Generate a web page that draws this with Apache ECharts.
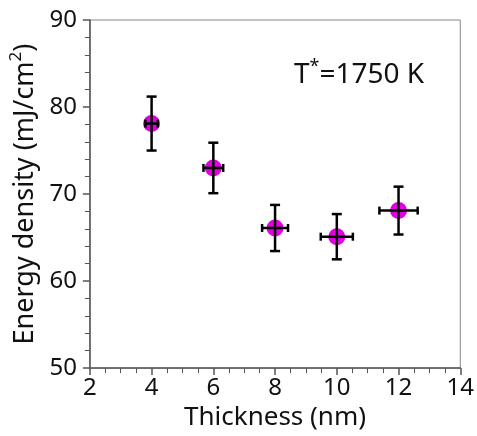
<!DOCTYPE html>
<html>
<head>
<meta charset="utf-8">
<script src="https://cdn.jsdelivr.net/npm/echarts@6/dist/echarts.min.js"></script>
<style>
  html, body { margin: 0; padding: 0; background: #fff; }
  #main { width: 477px; height: 436px; }
</style>
</head>
<body>
<div id="main"></div>
<script>
  // values
  var thickness = [4, 6, 8, 10, 12];
  var thicknessErr = [0.2, 0.32, 0.42, 0.52, 0.62];
  var energy = [78.1, 73.0, 66.1, 65.1, 68.1];
  var energyErr = [3.1, 2.9, 2.65, 2.6, 2.75];

  var xTicks = [2, 4, 6, 8, 10, 12, 14];
  var yTicks = [50, 60, 70, 80, 90];

  var font = 'Noto Sans';
  var axisColor = '#555';

  var points = thickness.map(function (t, i) {
    return [t, energy[i]];
  });
  var errData = thickness.map(function (t, i) {
    return [t, energy[i], thicknessErr[i], energyErr[i]];
  });

  function renderErr(params, api) {
    var x = api.value(0), y = api.value(1);
    var dx = api.value(2), dy = api.value(3);
    var l = api.coord([x - dx, y]);
    var r = api.coord([x + dx, y]);
    var t = api.coord([x, y + dy]);
    var b = api.coord([x, y - dy]);
    var cap = 5;
    var style = { stroke: '#000', lineWidth: 2.5 };
    var lines = [
      [l, r], [t, b],
      [[t[0] - cap, t[1]], [t[0] + cap, t[1]]],
      [[b[0] - cap, b[1]], [b[0] + cap, b[1]]],
      [[l[0], l[1] - cap + 1], [l[0], l[1] + cap - 1]],
      [[r[0], r[1] - cap + 1], [r[0], r[1] + cap - 1]]
    ];
    return {
      type: 'group',
      children: lines.map(function (p) {
        return {
          type: 'line',
          shape: { x1: p[0][0], y1: p[0][1], x2: p[1][0], y2: p[1][1] },
          style: style
        };
      })
    };
  }

  var chart = echarts.init(document.getElementById('main'));
  var option = {
    backgroundColor: '#fff',
    animation: false,
    grid: {
      left: 86, right: 16, top: 20, bottom: 67,
      show: true, borderColor: '#888', borderWidth: 1
    },
    xAxis: {
      type: 'value',
      min: xTicks[0], max: xTicks[xTicks.length - 1], interval: 2,
      name: 'Thickness (nm)',
      nameLocation: 'middle',
      nameGap: 36,
      nameTextStyle: { fontFamily: font, fontSize: 26, color: '#111' },
      axisLine: { show: true, lineStyle: { color: axisColor, width: 1.5 } },
      axisTick: { show: true, inside: false, length: 7, lineStyle: { color: axisColor, width: 1.5 } },
      minorTick: { show: true, splitNumber: 4, length: 5, lineStyle: { color: axisColor, width: 1 } },
      axisLabel: { fontFamily: font, fontSize: 24, color: '#111', margin: 8 },
      splitLine: { show: false }
    },
    yAxis: {
      type: 'value',
      min: yTicks[0], max: yTicks[yTicks.length - 1], interval: 10,
      name: '{a|Energy density (mJ/cm}{s|2}{a|)}',
      nameLocation: 'middle',
      nameGap: 31,
      nameTextStyle: {
        fontFamily: font, color: '#111',
        rich: {
          a: { fontFamily: font, fontSize: 27, color: '#111', lineHeight: 34 },
          s: { fontFamily: font, fontSize: 17, color: '#111', verticalAlign: 'top', lineHeight: 34 }
        }
      },
      axisLine: { show: true, lineStyle: { color: axisColor, width: 1.5 } },
      axisTick: { show: true, inside: false, length: 7, lineStyle: { color: axisColor, width: 1.5 } },
      minorTick: { show: true, splitNumber: 5, length: 5, lineStyle: { color: axisColor, width: 1 } },
      axisLabel: { fontFamily: font, fontSize: 24, color: '#111', margin: 13 },
      splitLine: { show: false }
    },
    graphic: [{
      type: 'text',
      left: 294,
      top: 58,
      style: {
        text: '{a|T}{s|*}{a|=1750 K}',
        rich: {
          a: { fontFamily: font, fontSize: 28, fill: '#111', lineHeight: 34 },
          s: { fontFamily: font, fontSize: 18, fill: '#111', verticalAlign: 'top', lineHeight: 34 }
        }
      }
    }],
    series: [
      {
        type: 'scatter',
        data: points,
        symbol: 'circle',
        symbolSize: 17,
        itemStyle: { color: '#e000e0', opacity: 1 },
        z: 2
      },
      {
        type: 'custom',
        data: errData,
        renderItem: renderErr,
        encode: { x: 0, y: 1 },
        z: 3
      }
    ]
  };
  chart.setOption(option);
</script>
</body>
</html>
